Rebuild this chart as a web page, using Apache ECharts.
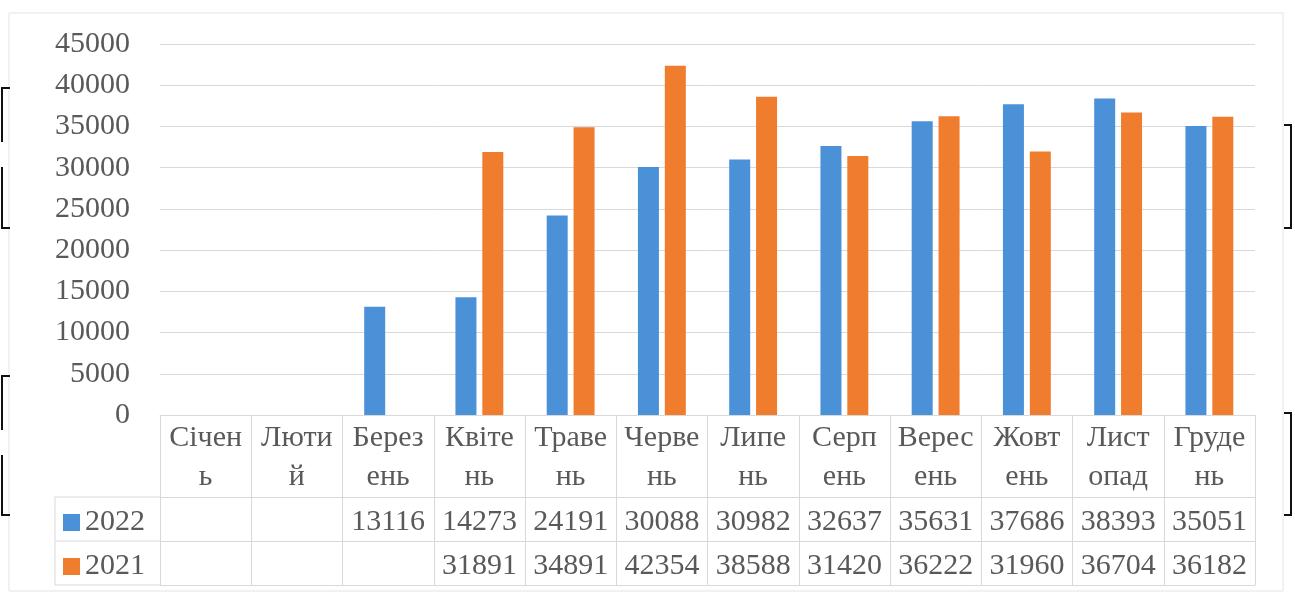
<!DOCTYPE html>
<html>
<head>
<meta charset="utf-8">
<script src="https://cdn.jsdelivr.net/npm/echarts@6/dist/echarts.min.js"></script>
<style>
  html, body { margin: 0; padding: 0; background: #ffffff; }
  #chart { width: 1295px; height: 597px; }
</style>
</head>
<body>
<div id="chart"></div>
<script>
// Monthly totals, 2022 vs 2021
const months = ['Січень', 'Лютий', 'Березень', 'Квітень', 'Травень', 'Червень',
                'Липень', 'Серпень', 'Вересень', 'Жовтень', 'Листопад', 'Грудень'];
// month names as they wrap inside the data-table header cells
const monthLabels = ['Січен\nь', 'Люти\nй', 'Берез\nень', 'Квіте\nнь', 'Траве\nнь', 'Черве\nнь',
                     'Липе\nнь', 'Серп\nень', 'Верес\nень', 'Жовт\nень', 'Лист\nопад', 'Груде\nнь'];
const values2022 = [null, null, 13116, 14273, 24191, 30088, 30982, 32637, 35631, 37686, 38393, 35051];
const values2021 = [null, null, null, 31891, 34891, 42354, 38588, 31420, 36222, 31960, 36704, 36182];
const seriesNames = ['2022', '2021'];
const yTicks = { min: 0, max: 45000, interval: 5000 };

const FONT = 'Liberation Serif';
const TEXT = '#595959';
const LINE = '#d9d9d9';
const BLUE = '#4b91d8';
const ORANGE = '#f07c2e';

const chart = echarts.init(document.getElementById('chart'), null, { renderer: 'canvas' });

const gridTop = 44, gridBottomY = 415;
const headerH = 82, rowH = 44;

function valueAxis(vals, offset) {
  return {
    type: 'category', gridIndex: 0, position: 'bottom', offset: offset,
    data: months,
    axisLine: { show: true, lineStyle: { color: LINE, width: 1 } },
    axisTick: { show: false },
    splitLine: { show: false },
    axisLabel: {
      show: true, interval: 0, margin: 10,
      fontFamily: FONT, fontSize: 30, color: TEXT,
      formatter: (v, i) => (vals && vals[i] != null ? String(vals[i]) : '')
    }
  };
}

const option = {
  backgroundColor: '#ffffff',
  animation: false,
  textStyle: { fontFamily: FONT },
  grid: { left: 160, right: 40, top: gridTop, bottom: 597 - gridBottomY, containLabel: false },
  legend: {
    orient: 'vertical', left: 63, top: 506, padding: 0,
    data: seriesNames,
    icon: 'rect', itemWidth: 17, itemHeight: 17, itemGap: 11,
    selectedMode: false,
    textStyle: { fontFamily: FONT, fontSize: 30, color: TEXT, lineHeight: 30, padding: [3, 0, 0, 0] }
  },
  xAxis: [
    {
      type: 'category', gridIndex: 0, position: 'bottom',
      data: monthLabels,
      axisLine: { show: true, lineStyle: { color: LINE, width: 1 } },
      axisTick: { show: true, interval: 0, length: headerH + 2 * rowH, lineStyle: { color: LINE, width: 1 } },
      splitLine: { show: false },
      axisLabel: {
        show: true, interval: 0, margin: 4,
        fontFamily: FONT, fontSize: 30, color: TEXT, lineHeight: 39, align: 'center'
      }
    },
    valueAxis(values2022, headerH),
    valueAxis(values2021, headerH + rowH),
    valueAxis(null, headerH + 2 * rowH)
  ],
  yAxis: {
    type: 'value', min: yTicks.min, max: yTicks.max, interval: yTicks.interval,
    axisLine: { show: false }, axisTick: { show: false },
    splitLine: { show: true, lineStyle: { color: LINE, width: 1 } },
    axisLabel: { margin: 30, fontFamily: FONT, fontSize: 30, color: TEXT, formatter: v => String(v) }
  },
  series: [
    {
      name: seriesNames[0], type: 'bar', xAxisIndex: 0, yAxisIndex: 0,
      data: values2022, barWidth: 21, barGap: '28%',
      itemStyle: { color: BLUE }
    },
    {
      name: seriesNames[1], type: 'bar', xAxisIndex: 0, yAxisIndex: 0,
      data: values2021, barWidth: 21, barGap: '28%',
      itemStyle: { color: ORANGE }
    }
  ],
  graphic: [
    // chart area frame
    { type: 'rect', shape: { x: 9, y: 13, width: 1274, height: 578 },
      style: { fill: 'none', stroke: '#e3e3e3', lineWidth: 1 }, silent: true, z: 0 },
    // legend column of the data table
    { type: 'polyline', shape: { points: [[160, 497], [55, 497], [55, 585], [160, 585]] },
      style: { fill: 'none', stroke: LINE, lineWidth: 1 }, silent: true },
    { type: 'line', shape: { x1: 55, y1: 541, x2: 160, y2: 541 },
      style: { stroke: LINE, lineWidth: 1 }, silent: true },
    // page brackets along the edges
    { type: 'polyline', shape: { points: [[10, 88], [2, 88], [2, 142]] },
      style: { fill: 'none', stroke: '#111', lineWidth: 2 }, silent: true },
    { type: 'polyline', shape: { points: [[2, 167], [2, 228], [10, 228]] },
      style: { fill: 'none', stroke: '#111', lineWidth: 2 }, silent: true },
    { type: 'polyline', shape: { points: [[10, 376], [2, 376], [2, 430]] },
      style: { fill: 'none', stroke: '#111', lineWidth: 2 }, silent: true },
    { type: 'polyline', shape: { points: [[2, 455], [2, 515], [10, 515]] },
      style: { fill: 'none', stroke: '#111', lineWidth: 2 }, silent: true },
    { type: 'polyline', shape: { points: [[1284, 125], [1291, 125], [1291, 228], [1284, 228]] },
      style: { fill: 'none', stroke: '#111', lineWidth: 2 }, silent: true },
    { type: 'polyline', shape: { points: [[1284, 413], [1291, 413], [1291, 515], [1284, 515]] },
      style: { fill: 'none', stroke: '#111', lineWidth: 2 }, silent: true }
  ]
};

chart.setOption(option);
</script>
</body>
</html>
